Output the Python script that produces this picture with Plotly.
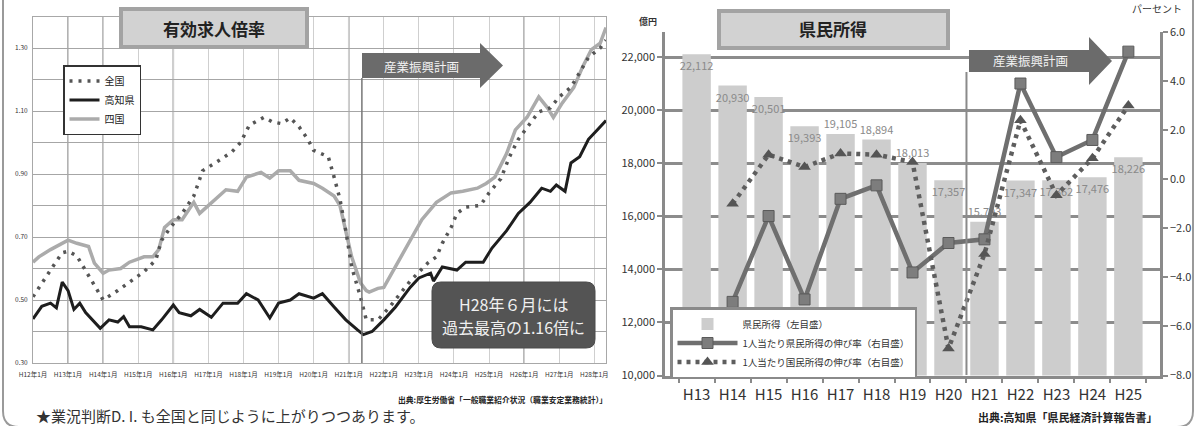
import plotly.graph_objects as go

W, H = 1197, 426
FONT = "Noto Sans CJK JP"


def px(x):
    return x / W


def py(y):
    return 1 - y / H


# ---------------- Left chart data (有効求人倍率) ----------------
# x = months since H12年1月
month_tickvals = [0, 12, 24, 36, 48, 60, 72, 84, 96, 108, 120, 132, 144, 156, 168, 180, 192]
month_ticktext = ["H12年1月", "H13年1月", "H14年1月", "H15年1月", "H16年1月", "H17年1月",
                  "H18年1月", "H19年1月", "H20年1月", "H21年1月", "H22年1月", "H23年1月",
                  "H24年1月", "H25年1月", "H26年1月", "H27年1月", "H28年1月"]

kochi_month = [0, 3, 6, 8, 10, 12, 14, 16, 18, 23, 26, 29, 31, 33, 37, 41, 44, 48, 50, 54,
               57, 61, 65, 70, 73, 77, 81, 84, 88, 91, 96, 99, 103, 107, 111, 113, 116, 120, 124, 129,
               132, 136, 137, 140, 145, 148, 154, 157, 162, 166, 170, 174, 177, 179, 182, 184, 187, 190, 193, 196]
kochi_ratio = [0.44, 0.48, 0.49, 0.475, 0.557, 0.53, 0.47, 0.49, 0.46, 0.41, 0.437, 0.43, 0.447, 0.415, 0.415,
               0.405, 0.437, 0.484, 0.46, 0.45, 0.47, 0.445, 0.49, 0.49, 0.52, 0.50, 0.443, 0.49, 0.50, 0.52,
               0.506, 0.52, 0.478, 0.437, 0.405, 0.39, 0.40, 0.437, 0.478, 0.54, 0.57, 0.585, 0.56, 0.605, 0.595,
               0.62, 0.62, 0.665, 0.72, 0.775, 0.81, 0.855, 0.845, 0.865, 0.845, 0.935, 0.955, 1.01, 1.04, 1.07]

national_month = [0, 2, 6, 10, 12, 15, 18, 22, 24, 29, 33, 38, 42, 44, 47, 51, 55, 58, 64, 68,
                  71, 74, 79, 82, 85, 88, 91, 94, 96, 101, 103, 105, 107, 109, 112, 114, 118, 122, 129, 135,
                  138, 140, 143, 145, 148, 153, 156, 160, 163, 166, 170, 173, 177, 180, 184, 187, 190, 194, 196]
national_ratio = [0.51, 0.54, 0.595, 0.65, 0.655, 0.64, 0.595, 0.53, 0.50, 0.53, 0.557, 0.59, 0.627, 0.69, 0.73,
                  0.775, 0.83, 0.91, 0.945, 0.97, 1.00, 1.055, 1.08, 1.065, 1.06, 1.078, 1.05, 1.01, 0.975, 0.955,
                  0.89, 0.82, 0.72, 0.605, 0.51, 0.437, 0.437, 0.478, 0.56, 0.617, 0.637, 0.68, 0.73, 0.775, 0.795,
                  0.80, 0.84, 0.885, 0.955, 1.01, 1.06, 1.097, 1.11, 1.145, 1.175, 1.22, 1.27, 1.30, 1.325]

shikoku_month = [0, 2, 6, 10, 12, 15, 19, 21, 24, 26, 30, 33, 38, 41, 43, 45, 48, 51, 55, 57,
                 61, 66, 70, 73, 78, 81, 84, 88, 91, 96, 99, 103, 105, 107, 109, 112, 114, 115, 118, 120,
                 124, 129, 133, 138, 143, 147, 152, 155, 158, 162, 165, 169, 173, 176, 178, 181, 185, 188, 191, 194, 196]
shikoku_ratio = [0.62, 0.637, 0.66, 0.68, 0.69, 0.68, 0.67, 0.617, 0.585, 0.595, 0.60, 0.62, 0.637, 0.637, 0.66,
                 0.73, 0.755, 0.755, 0.81, 0.775, 0.81, 0.85, 0.845, 0.89, 0.905, 0.887, 0.91, 0.91, 0.88, 0.87,
                 0.855, 0.83, 0.80, 0.72, 0.637, 0.555, 0.53, 0.525, 0.537, 0.54, 0.605, 0.69, 0.755, 0.81, 0.84,
                 0.845, 0.855, 0.87, 0.89, 0.965, 1.04, 1.08, 1.145, 1.11, 1.08, 1.125, 1.175, 1.24, 1.295, 1.315, 1.365]

ratio_tickvals = [0.3, 0.4, 0.5, 0.6, 0.7, 0.8, 0.9, 1.0, 1.1, 1.2, 1.3, 1.4]
ratio_ticktext = ["0.30", "", "0.50", "", "0.70", "", "0.90", "", "1.10", "", "1.30", ""]

# ---------------- Right chart data (県民所得) ----------------
fiscal_years = ["H13", "H14", "H15", "H16", "H17", "H18", "H19", "H20", "H21", "H22", "H23", "H24", "H25"]
pref_income = [22112, 20930, 20501, 19393, 19105, 18894, 18013, 17357, 15793, 17347, 17362, 17476, 18226]
pref_growth = [None, -5.0, -1.5, -4.9, -0.8, -0.25, -3.8, -2.6, -2.45, 3.9, 0.9, 1.6, 5.2]
nat_growth = [None, -1.0, 1.0, 0.5, 1.05, 1.0, 0.7, -6.9, -3.05, 2.4, -0.65, 0.85, 3.0]

income_tickvals = [10000, 12000, 14000, 16000, 18000, 20000, 22000]
pct_tickvals = [-8, -6, -4, -2, 0, 2, 4, 6]

fig = go.Figure()

# Left chart traces
fig.add_trace(go.Scatter(x=shikoku_month, y=shikoku_ratio, name="四国", mode="lines",
                         line=dict(color="#ababab", width=3.5), legend="legend", legendrank=3,
                         xaxis="x", yaxis="y"))
fig.add_trace(go.Scatter(x=national_month, y=national_ratio, name="全国", mode="lines",
                         line=dict(color="#555555", width=3.5, dash="3px,6px"), legend="legend", legendrank=1,
                         xaxis="x", yaxis="y"))
fig.add_trace(go.Scatter(x=kochi_month, y=kochi_ratio, name="高知県", mode="lines",
                         line=dict(color="#1e1e1e", width=3), legend="legend", legendrank=2,
                         xaxis="x", yaxis="y"))

# Right chart traces
text_pos = ["inside", "inside", "inside", "inside", "outside", "outside", "outside",
            "inside", "outside", "inside", "inside", "inside", "inside"]
fig.add_trace(go.Bar(x=fiscal_years, y=pref_income, name="県民所得（左目盛）",
                     marker=dict(color="#cdcdcd", line=dict(width=0)),
                     text=[f"{v:,}" for v in pref_income], textposition=text_pos,
                     insidetextanchor="end", textangle=0, cliponaxis=False,
                     textfont=dict(color="#8a8a8a", size=11, family=FONT),
                     legend="legend2", xaxis="x2", yaxis="y2"))
fig.add_trace(go.Scatter(x=fiscal_years, y=pref_growth, name="1人当たり県民所得の伸び率（右目盛）",
                         mode="lines+markers",
                         line=dict(color="#6f6f6f", width=4.5),
                         marker=dict(symbol="square", size=11, color="#7d7d7d",
                                     line=dict(color="#5a5a5a", width=1)),
                         legend="legend2", xaxis="x2", yaxis="y3"))
fig.add_trace(go.Scatter(x=fiscal_years, y=nat_growth, name="1人当たり国民所得の伸び率（右目盛）",
                         mode="lines+markers",
                         line=dict(color="#5e5e5e", width=4.5, dash="4px,5px"),
                         marker=dict(symbol="triangle-up", size=11, color="#555555"),
                         legend="legend2", xaxis="x2", yaxis="y3"))

# ---------------- shapes ----------------
shapes = []


def rrect_path(x0, y0, x1, y1, r):
    pts = [
        f"M {px(x0 + r)},{py(y0)}",
        f"L {px(x1 - r)},{py(y0)}",
        f"Q {px(x1)},{py(y0)} {px(x1)},{py(y0 + r)}",
        f"L {px(x1)},{py(y1 - r)}",
        f"Q {px(x1)},{py(y1)} {px(x1 - r)},{py(y1)}",
        f"L {px(x0 + r)},{py(y1)}",
        f"Q {px(x0)},{py(y1)} {px(x0)},{py(y1 - r)}",
        f"L {px(x0)},{py(y0 + r)}",
        f"Q {px(x0)},{py(y0)} {px(x0 + r)},{py(y0)}",
        "Z",
    ]
    return " ".join(pts)


def arrow_path(x0, x1, xh, yb0, yb1, yh0, yh1):
    ym = (yh0 + yh1) / 2
    pts = [(x0, yb0), (x1, yb0), (x1, yh0), (xh, ym), (x1, yh1), (x1, yb1), (x0, yb1)]
    return "M " + " L ".join(f"{px(a)},{py(b)}" for a, b in pts) + " Z"


# page frame
shapes.append(dict(type="path", xref="paper", yref="paper", path=rrect_path(3, -30, 1193, 427, 16),
                   line=dict(color="#9a9a9a", width=2), fillcolor="rgba(0,0,0,0)", layer="below"))

# darker vertical lines in left chart
for m in [12, 24, 48, 108, 168]:
    shapes.append(dict(type="line", xref="x", yref="paper", x0=m, x1=m, y0=py(363), y1=py(16.5),
                       line=dict(color="#8c8c8c", width=1.5), layer="below"))
# plan start line (left)
shapes.append(dict(type="line", xref="x", yref="paper", x0=112.5, x1=112.5, y0=py(363), y1=py(78),
                   line=dict(color="#777777", width=1.5)))
# plan start line (right)
shapes.append(dict(type="line", xref="x2", yref="paper", x0=7.5, x1=7.5, y0=py(375), y1=py(72),
                   line=dict(color="#8a8a8a", width=2)))

# title boxes
shapes.append(dict(type="rect", xref="paper", yref="paper", x0=px(121), x1=px(307), y0=py(47), y1=py(9),
                   fillcolor="#d2d2d2", line=dict(color="#a3a3a3", width=4)))
shapes.append(dict(type="rect", xref="paper", yref="paper", x0=px(719), x1=px(948), y0=py(48), y1=py(11),
                   fillcolor="#d2d2d2", line=dict(color="#a3a3a3", width=4)))

# arrows
shapes.append(dict(type="path", xref="paper", yref="paper",
                   path=arrow_path(362, 480, 503, 53, 78, 43, 88), fillcolor="#6b6b6b", line=dict(width=0)))
shapes.append(dict(type="path", xref="paper", yref="paper",
                   path=arrow_path(969, 1089, 1112, 50, 72, 37, 85), fillcolor="#6b6b6b", line=dict(width=0)))

# callout box
shapes.append(dict(type="path", xref="paper", yref="paper", path=rrect_path(432, 282, 595, 348, 9),
                   fillcolor="#545454", line=dict(color="#4a4a4a", width=1)))

fig.update_layout(shapes=shapes)

# ---------------- annotations ----------------
ann = []


def text(x, y, s, size, color="#222222", xanchor="center", bold=False):
    ann.append(dict(xref="paper", yref="paper", x=px(x), y=py(y), text=f"<b>{s}</b>" if bold else s,
                    showarrow=False, xanchor=xanchor, yanchor="middle",
                    font=dict(family=FONT, size=size, color=color)))


text(214, 28, "有効求人倍率", 17, "#222222", bold=True)
text(833, 29, "県民所得", 17, "#222222", bold=True)
text(421, 66, "産業振興計画", 12.5, "#f2f2f2")
text(1030, 61, "産業振興計画", 12.5, "#f2f2f2")
text(513, 304, "H28年６月には", 16, "#f0f0f0")
text(513, 327, "過去最高の1.16倍に", 16, "#f0f0f0")
text(609, 399, "出典:厚生労働省「一般職業紹介状況（職業安定業務統計）」", 7.8, "#222222", xanchor="right", bold=True)
text(1160, 417, "出典:高知県「県民経済計算報告書」", 11, "#222222", xanchor="right", bold=True)
text(34, 415, "★業況判断D. I. も全国と同じように上がりつつあります。", 15, "#333333", xanchor="left")
text(648, 22, "億円", 9, "#333333", bold=True)
text(1157, 8, "パーセント", 10, "#333333")

fig.update_layout(annotations=ann)

# ---------------- layout ----------------
fig.update_layout(
    width=W, height=H,
    autosize=False,
    margin=dict(l=0, r=0, t=0, b=0, pad=0, autoexpand=False),
    paper_bgcolor="white", plot_bgcolor="white",
    font=dict(family=FONT, color="#333333"),
    barmode="overlay",
    bargap=0.21,
    uniformtext=dict(minsize=11, mode="show"),
    xaxis=dict(domain=[px(33), px(606)], anchor="y", range=[0, 196], tickvals=month_tickvals,
               ticktext=month_ticktext, tickfont=dict(size=6.5, color="#333333"), tickangle=0,
               ticklabelstandoff=5,
               showgrid=True, gridcolor="#cfcfcf", gridwidth=1, zeroline=False, automargin=False,
               showline=True, linecolor="#a8a8a8", linewidth=1, mirror=True, ticks=""),
    yaxis=dict(domain=[py(363), py(16.5)], anchor="x", range=[0.30, 1.40], tickvals=ratio_tickvals,
               ticktext=ratio_ticktext, tickfont=dict(size=6.5, color="#333333"), automargin=False,
               ticklabelstandoff=3,
               showgrid=True, gridcolor="#a6a6a6", gridwidth=1.4, zeroline=False,
               showline=True, linecolor="#a8a8a8", linewidth=1, mirror=True, ticks=""),
    xaxis2=dict(domain=[px(665), px(1160)], anchor="y2", type="category", tickangle=0, automargin=False,
                tickfont=dict(size=15, color="#333333"), showgrid=False, ticklabelstandoff=4,
                showline=True, linecolor="#8a8a8a", linewidth=2.5,
                ticks="outside", tickson="boundaries", ticklen=5, tickcolor="#8a8a8a", tickwidth=2),
    yaxis2=dict(domain=[py(375.5), py(32)], anchor="x2", range=[10000, 22950], tickvals=income_tickvals,
                tickformat=",", tickfont=dict(size=11, color="#333333"), automargin=False,
                showgrid=True, gridcolor="#8c8c8c", gridwidth=2.5, zeroline=False,
                showline=True, linecolor="#8a8a8a", linewidth=2.5,
                ticks="outside", ticklen=5, tickcolor="#8a8a8a", tickwidth=2),
    yaxis3=dict(overlaying="y2", anchor="x2", side="right", range=[-8, 6], tickvals=pct_tickvals,
                tickformat=".1f", tickfont=dict(size=11, color="#333333"), automargin=False,
                showgrid=False, zeroline=False,
                showline=True, linecolor="#8a8a8a", linewidth=2.5,
                ticks="outside", ticklen=5, tickcolor="#8a8a8a", tickwidth=2),
    legend=dict(x=px(63), y=py(65), xanchor="left", yanchor="top", bgcolor="white",
                bordercolor="#333333", borderwidth=1.5, font=dict(size=10, color="#222222", family=FONT),
                itemwidth=30, tracegroupgap=0),
    legend2=dict(x=px(670), y=py(307), xanchor="left", yanchor="top", bgcolor="white",
                 bordercolor="#8a8a8a", borderwidth=2.5, font=dict(size=9.5, color="#333333", family=FONT),
                 itemwidth=60, traceorder="normal"),
)

fig.write_html("out.html",
               config={"displayModeBar": False, "responsive": False},
               post_script="document.body.style.margin='0';document.body.style.overflow='hidden';")
